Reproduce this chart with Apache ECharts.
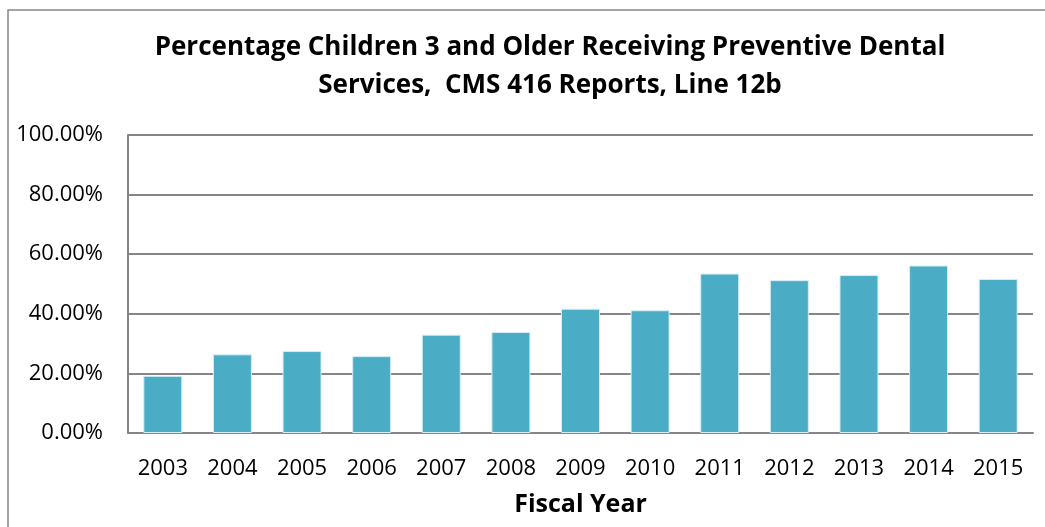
<!DOCTYPE html>
<head>
    <meta charset="utf-8">
    <title>ECharts</title>
</head>
<body style="margin:0">
<div id="main" style="width:1045px;height:527px"></div>
<script src="https://cdn.jsdelivr.net/npm/echarts@6/dist/echarts.min.js"></script>
<script type="text/javascript">
    var years = ['2003', '2004', '2005', '2006', '2007', '2008', '2009', '2010', '2011', '2012', '2013', '2014', '2015'];
    var percents = [19.2, 26.4, 27.5, 25.8, 33.0, 33.9, 41.7, 41.2, 53.5, 51.3, 53.0, 56.2, 51.7];
    var yTicks = [0, 20, 40, 60, 80, 100];

    var myChart = echarts.init(document.getElementById('main'));
    var font = 'Open Sans';
    myChart.setOption({
        animation: false,
        backgroundColor: '#fff',
        graphic: [{
            type: 'rect',
            shape: {x: 8, y: 10, width: 1060, height: 560},
            style: {fill: 'none', stroke: '#868686', lineWidth: 1.5},
            silent: true
        }],
        title: {
            text: 'Percentage Children 3 and Older Receiving Preventive Dental\nServices,  CMS 416 Reports, Line 12b',
            left: 545,
            textAlign: 'center',
            top: 24,
            textStyle: {fontFamily: font, fontWeight: 'bold', fontSize: 26, lineHeight: 38, color: '#000'}
        },
        grid: {left: 128, right: 12, top: 135, bottom: 94},
        xAxis: {
            type: 'category',
            data: years,
            name: 'Fiscal Year',
            nameLocation: 'middle',
            nameGap: 59,
            nameTextStyle: {fontFamily: font, fontWeight: 'bold', fontSize: 25, color: '#000'},
            axisLine: {lineStyle: {color: '#868686', width: 2}},
            axisTick: {show: false},
            axisLabel: {fontFamily: font, fontSize: 22, color: '#000', margin: 25}
        },
        yAxis: {
            type: 'value',
            min: yTicks[0],
            max: yTicks[yTicks.length - 1],
            interval: yTicks[1] - yTicks[0],
            axisLine: {show: true, lineStyle: {color: '#868686', width: 2}},
            axisTick: {show: false},
            splitLine: {lineStyle: {color: '#868686', width: 2}},
            axisLabel: {
                fontFamily: font, fontSize: 22, color: '#000', margin: 25,
                formatter: function (v) { return v.toFixed(2) + '%'; }
            }
        },
        series: [{
            type: 'bar',
            data: percents,
            barCategoryGap: '44%',
            itemStyle: {color: '#4BACC6', borderColor: '#D6EEF4', borderWidth: 1}
        }]
    });
</script>
</body>
